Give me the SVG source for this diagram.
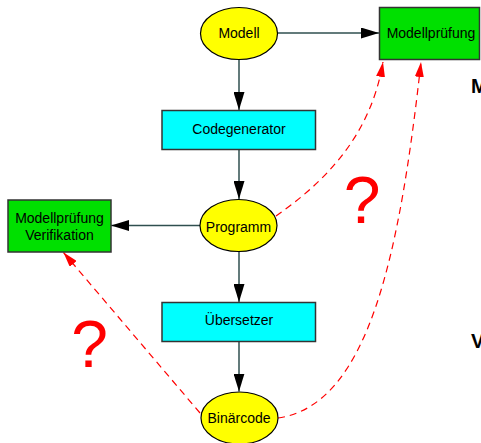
<svg xmlns="http://www.w3.org/2000/svg" width="481" height="443" viewBox="0 0 481 443">
  <style>
    text { font-family: "Liberation Sans", Arial, sans-serif; font-size: 14px; fill: #000; text-anchor: middle; }
    .oval { fill: #ffff00; stroke: #000; stroke-width: 1.2; }
    .proc { fill: #00ffff; stroke: #333; stroke-width: 1.5; }
    .check { fill: #00e000; stroke: #333; stroke-width: 1.5; }
    .flow { fill: none; stroke: #2f4f4f; stroke-width: 1.5; marker-end: url(#arrow); }
    .dash { fill: none; stroke: #ff0000; stroke-width: 1.2; stroke-dasharray: 7 5; marker-end: url(#redArrow); }
    .qmark { font-size: 66px; fill: #ff0000; }
    .side { font-size: 20px; font-weight: bold; text-anchor: start; }
  </style>
  <defs>
    <marker id="arrow" markerUnits="userSpaceOnUse" markerWidth="18" markerHeight="11" refX="18" refY="5.5" orient="auto">
      <path d="M0,0 L18,5.5 L0,11 z" fill="#000"/>
    </marker>
    <marker id="redArrow" markerUnits="userSpaceOnUse" markerWidth="15" markerHeight="9" refX="15" refY="4.5" orient="auto">
      <path d="M0,0 L15,4.5 L0,9 z" fill="#ff0000"/>
    </marker>
  </defs>

  <rect width="481" height="443" fill="#fff"/>

  <g id="connectors">
    <path class="flow" d="M278,33 L379,33"/>
    <path class="flow" d="M239,59.5 L239,110"/>
    <path class="flow" d="M239,149.5 L239,199"/>
    <path class="flow" d="M200,225.5 L111,225.5"/>
    <path class="flow" d="M239,251 L239,302"/>
    <path class="flow" d="M239,342 L239,391.5"/>
    <path class="dash" d="M276,216 C320,185 370,140 383,62"/>
    <path class="dash" d="M278,418 C370,405 400,250 421,62"/>
    <path class="dash" d="M200,413 L63.5,252.5"/>
  </g>

  <g id="modell">
    <ellipse class="oval" cx="239" cy="33.5" rx="38.5" ry="26"/>
    <text x="239" y="38">Modell</text>
  </g>
  <g id="modellpruefung">
    <rect class="check" x="379.5" y="7.5" width="100" height="52"/>
    <text x="431" y="38">Modellprüfung</text>
  </g>
  <g id="codegenerator">
    <rect class="proc" x="162" y="110.5" width="153.5" height="39"/>
    <text x="239" y="134">Codegenerator</text>
  </g>
  <g id="programm">
    <ellipse class="oval" cx="238.5" cy="225.5" rx="38.5" ry="26"/>
    <text x="238.5" y="232">Programm</text>
  </g>
  <g id="verifikation">
    <rect class="check" x="8" y="200" width="103" height="52"/>
    <text x="59.5" y="222.5">Modellprüfung</text>
    <text x="59.5" y="240">Verifikation</text>
  </g>
  <g id="uebersetzer">
    <rect class="proc" x="162" y="302.5" width="153.5" height="39"/>
    <text x="239" y="325">Übersetzer</text>
  </g>
  <g id="binaercode">
    <ellipse class="oval" cx="239.5" cy="418" rx="38.5" ry="26"/>
    <text x="239" y="423">Binärcode</text>
  </g>

  <text class="qmark" x="362" y="223">?</text>
  <text class="qmark" x="89.5" y="367">?</text>

  <text class="side" x="471" y="93">M</text>
  <text class="side" x="471" y="348">V</text>
</svg>
